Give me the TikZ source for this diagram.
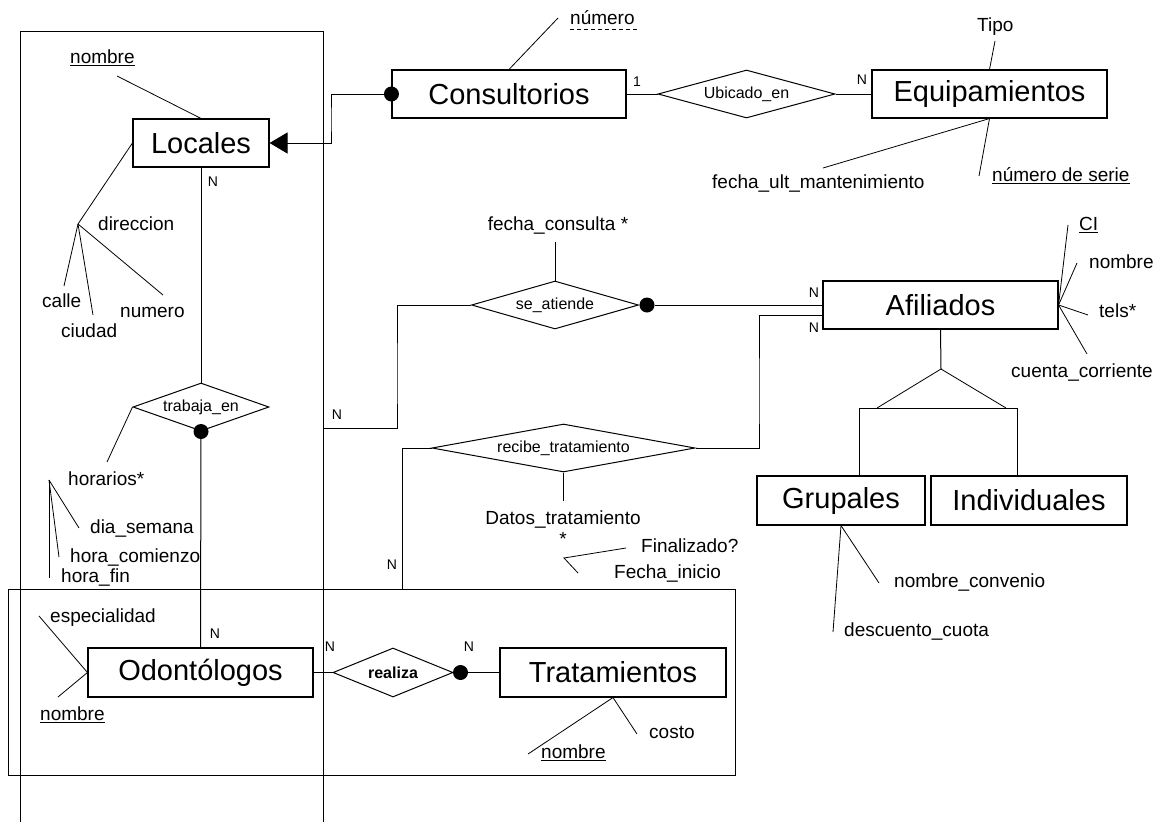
\documentclass[tikz,border=0pt]{standalone}
\usepackage{fontspec}
\setmainfont{Liberation Sans}
\usetikzlibrary{shapes.geometric,arrows.meta,calc}
\begin{document}
\begin{tikzpicture}[x=1pt,y=-1pt,
  ent/.style={draw,line width=1.1pt,minimum height=48pt,inner sep=0pt,font=\fontsize{29}{30}\selectfont},
  rel/.style={draw,diamond,line width=1pt,inner sep=0pt,minimum height=48pt,font=\fontsize{16}{16}\selectfont},
  attr/.style={inner sep=0pt,anchor=mid west,font=\fontsize{19}{19}\selectfont},
  attrc/.style={inner sep=0pt,anchor=mid,font=\fontsize{19}{19}\selectfont},
  card/.style={inner sep=0pt,anchor=mid,font=\fontsize{14}{14}\selectfont},
  dot/.style={circle,fill,inner sep=0pt,minimum size=15pt},
  aline/.style={line width=0.8pt},
  cline/.style={line width=1pt},
  frame/.style={line width=0.9pt}]
\useasboundingbox (0,0) rectangle (1167,822);

% aggregation frames
\draw[frame] (20,822) -- (20,31) -- (323,31) -- (323,822);
\draw[frame] (8,589) rectangle (735,775);

% entities
\node[ent,minimum width=136pt] (Locales) at (201,143) {Locales};
\node[ent,minimum width=234pt] (Consult) at (509,94) {Consultorios};
\node[ent,minimum width=235pt] (Equip) at (989.5,94) {Equipamientos};
\node[ent,minimum width=235pt] (Afil) at (940.5,305) {Afiliados};
\node[ent,minimum width=168pt,minimum height=49pt] (Grup) at (841,500.5) {Grupales};
\node[ent,minimum width=196pt,minimum height=49pt] (Indiv) at (1029,500.5) {Individuales};
\node[ent,minimum width=225pt,minimum height=49pt] (Odont) at (200.5,672.5) {Odontólogos};
\node[ent,minimum width=226pt,minimum height=49pt] (Trat) at (613,672.5) {Tratamientos};

% relationships
\node[rel,minimum width=136pt,shape aspect=2.8] (trab) at (201,407) {trabaja\_en};
\node[rel,minimum width=177pt,shape aspect=3.7] (ubic) at (746.5,94) {Ubicado\_en};
\node[rel,minimum width=167pt,shape aspect=3.5] (seat) at (555,305) {se\_atiende};
\node[rel,minimum width=263pt,shape aspect=5.5] (recibe) at (563.5,448) {recibe\_tratamiento};
\node[rel,minimum width=120pt,minimum height=49pt,shape aspect=2.5,font=\fontsize{16}{16}\selectfont\bfseries] (realiza) at (393,672.5) {realiza};

% dots
\node[dot] (consdot) at (Consult.west) {};
\node[dot] (trabdot) at (trab.south) {};
\node[dot] (seatdot) at ([xshift=8pt]seat.east) {};
\node[dot] (realdot) at ([xshift=7pt]realiza.east) {};

% coordinates
\coordinate (cKnee) at (331,120);
\coordinate (cSAknee) at (397,380);
\coordinate (cSAend) at (323,428);
\coordinate (cRknee) at (759,400);
\coordinate (cRend) at (402,589);
\coordinate (cRend2) at (372,589);

% connectors
\draw[cline,-{Triangle[length=18pt,width=21pt]}] (consdot) -| (cKnee) |- (Locales.east);
\draw[cline] (Consult.east) -- (ubic.west);
\draw[cline] (ubic.east) -- (Equip.west);
\draw[cline] (Locales.south) -- (trab.north);
\draw[cline] (trabdot) -- (Odont.north);
\draw[cline] (Odont.east) -- (realiza.west);
\draw[cline] (realdot) -- (Trat.west);
\draw[cline] (seat.west) -| (cSAknee) |- (cSAend);
\draw[cline] (seatdot) -- (Afil.west);
\draw[cline] ([yshift=-10pt]Afil.west) -| (cRknee) |- (recibe.east);
\draw[cline] (recibe.west) -| (cRend) -- (cRend2);

% cardinalities
\node[card] at (637,84) {1};
\node[card] at (862,82) {N};
\node[card] at (213,184) {N};
\node[card] at (215,636) {N};
\node[card] at (330,649) {N};
\node[card] at (469,649) {N};
\node[card] at (337,417) {N};
\node[card] at (814,295) {N};
\node[card] at (814,330) {N};
\node[card] at (392,567) {N};

% ISA
\coordinate (isaTop) at (941,369);
\coordinate (isaL) at (877,408);
\coordinate (isaR) at (1006,408);
\coordinate (barL) at (859,408);
\coordinate (barR) at (1017,408);
\draw[cline] (Afil.south) -- (isaTop);
\draw[aline] (isaL) -- (isaTop) -- (isaR);
\draw[cline] (Grup.north -| barL) -- (barL) -- (barR) -- (Indiv.north -| barR);

% Locales attributes
\node[attr] (locnom) at (70,61) {\underline{nombre}};
\coordinate (cLocNom) at (117,76);
\draw[aline] (Locales.north) -- (cLocNom);
\coordinate (cDir) at (78,224);
\draw[aline] (Locales.west) -- (cDir);
\coordinate (cCalle) at (64,286);
\coordinate (cCiudad) at (93,315);
\coordinate (cNumero) at (163,295);
\draw[aline] (cDir) -- (cCalle);
\draw[aline] (cDir) -- (cCiudad);
\draw[aline] (cDir) -- (cNumero);
\node[attr] (dir) at (98,228) {direccion};
\node[attr] (calle) at (42,305) {calle};
\node[attr] (ciudad) at (61,335) {ciudad};
\node[attr] (numero) at (120,315) {numero};

% trabaja_en attributes
\coordinate (cHor) at (107,462);
\draw[aline] (trab.west) -- (cHor);
\node[attr] (hor) at (68,483) {horarios*};
\coordinate (cHb) at (49,480);
\coordinate (cDia) at (79,528);
\coordinate (cHc) at (59,557);
\coordinate (cHf) at (49,578);
\draw[aline] (cHb) -- (cDia);
\draw[aline] (cHb) -- (cHc);
\draw[aline] (cHb) -- (cHf);
\node[attr] (dia) at (90,531) {dia\_semana};
\node[attr] (hcom) at (70,560) {hora\_comienzo};
\node[attr] (hfin) at (61,580) {hora\_fin};

% Odontologos attributes
\coordinate (cEsp) at (39,616);
\coordinate (cOdNom) at (58,697);
\draw[aline] (Odont.west) -- (cEsp);
\draw[aline] (Odont.west) -- (cOdNom);
\node[attr] (esp) at (50,620) {especialidad};
\node[attr] (odnom) at (40,718) {\underline{nombre}};

% Tratamientos attributes
\coordinate (cTnom) at (528,754);
\coordinate (cCosto) at (637,734);
\draw[aline] (Trat.south) -- (cTnom);
\draw[aline] (Trat.south) -- (cCosto);
\node[attr] (tnom) at (541,756) {\underline{nombre}};
\node[attr] (costo) at (649,736) {costo};

% Consultorios attribute
\coordinate (cNum) at (558,18);
\draw[aline] (Consult.north) -- (cNum);
\node[attr] (num) at (570,22) {número};
\draw[aline,dashed,dash pattern=on 4pt off 3pt] ([yshift=-5pt]num.base west) -- ([yshift=-5pt,xshift=3pt]num.base east);

% Equipamientos attributes
\coordinate (cTipo) at (995,41);
\coordinate (cFum) at (823,168);
\coordinate (cNser) at (979,176);
\draw[aline] (Equip.north) -- (cTipo);
\draw[aline] (Equip.south) -- (cFum);
\draw[aline] (Equip.south) -- (cNser);
\node[attr] (tipo) at (977,29) {Tipo};
\node[attr] (fum) at (712,186) {fecha\_ult\_mantenimiento};
\node[attr] (nser) at (992,179) {\underline{número de serie}};

% se_atiende attribute
\coordinate (cFC) at (555,242);
\draw[aline] (cFC) -- (seat.north);
\node[attrc] (fc) at (558,228) {fecha\_consulta *};

% recibe_tratamiento attributes
\coordinate (cDT) at (563.5,501);
\draw[aline] (recibe.south) -- (cDT);
\node[attrc] (dt) at (563,522) {Datos\_tratamiento};
\node[attrc] (dtstar) at (563,543) {*};
\coordinate (cFb) at (564,558);
\coordinate (cFin) at (626,548);
\coordinate (cFi) at (578,573);
\draw[aline] (cFin) -- (cFb) -- (cFi);
\node[attr] (fin) at (641,550) {Finalizado?};
\node[attr] (fi) at (614,576) {Fecha\_inicio};

% Afiliados attributes
\coordinate (cCI) at (1068,225);
\coordinate (cAnom) at (1077,263);
\coordinate (cTels) at (1088,315);
\coordinate (cCta) at (1087,354);
\draw[aline] (Afil.east) -- (cCI);
\draw[aline] (Afil.east) -- (cAnom);
\draw[aline] (Afil.east) -- (cTels);
\draw[aline] (Afil.east) -- (cCta);
\node[attr] (ci) at (1079,228) {\underline{CI}};
\node[attr] (anom) at (1089,266) {nombre};
\node[attr] (tels) at (1099,315) {tels*};
\node[attr] (cta) at (1011,375) {cuenta\_corriente};

% Grupales attributes
\coordinate (cNC) at (879,583);
\coordinate (cDC) at (833,632);
\draw[aline] (Grup.south) -- (cNC);
\draw[aline] (Grup.south) -- (cDC);
\node[attr] (nc) at (894,585) {nombre\_convenio};
\node[attr] (dc) at (844,634) {descuento\_cuota};
\end{tikzpicture}
\end{document}
